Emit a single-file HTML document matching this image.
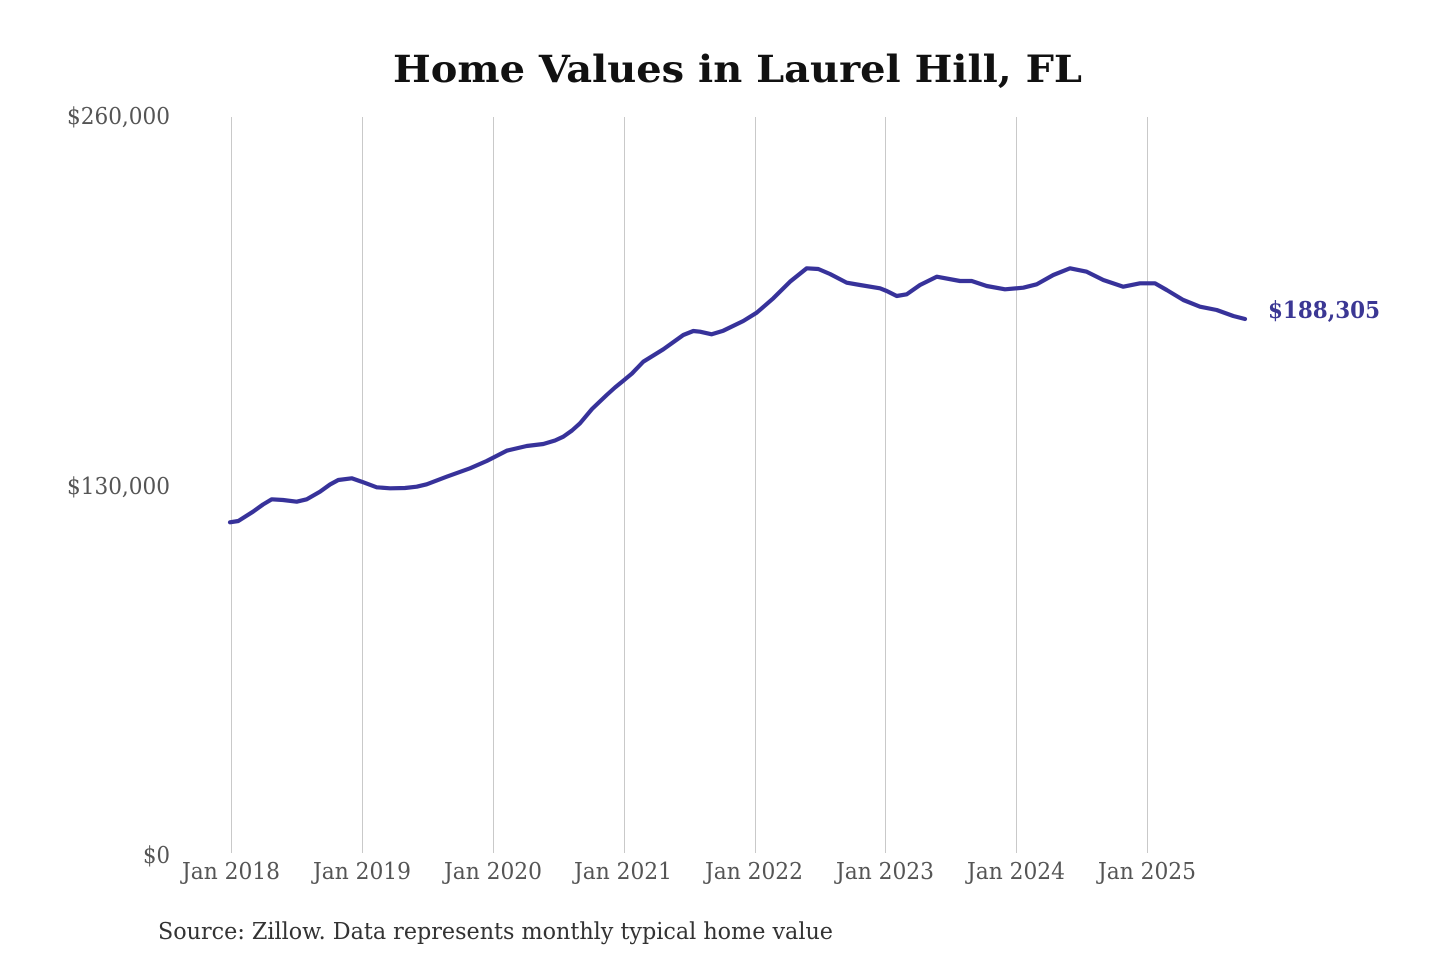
<!DOCTYPE html>
<html>
<head>
<meta charset="utf-8">
<style>
  html, body { margin:0; padding:0; background:#ffffff; }
  svg { display:block; }
  text { font-family: "DejaVu Serif", "Liberation Serif", serif; }
</style>
</head>
<body>
<svg width="1440" height="960" viewBox="0 0 1440 960" xmlns="http://www.w3.org/2000/svg">
  <rect x="0" y="0" width="1440" height="960" fill="#ffffff"/>

  <!-- Title -->
  <text x="393" y="82" font-size="37" font-weight="bold" fill="#111111" textLength="689" lengthAdjust="spacingAndGlyphs">Home Values in Laurel Hill, FL</text>

  <!-- Vertical gridlines -->
  <g stroke="#c9c9c9" stroke-width="1">
    <line x1="231.5" y1="117" x2="231.5" y2="853"/>
    <line x1="362.5" y1="117" x2="362.5" y2="853"/>
    <line x1="493.5" y1="117" x2="493.5" y2="853"/>
    <line x1="624.5" y1="117" x2="624.5" y2="853"/>
    <line x1="755.5" y1="117" x2="755.5" y2="853"/>
    <line x1="885.5" y1="117" x2="885.5" y2="853"/>
    <line x1="1016.5" y1="117" x2="1016.5" y2="853"/>
    <line x1="1147.5" y1="117" x2="1147.5" y2="853"/>
  </g>

  <!-- Y axis labels -->
  <g font-size="23" fill="#555555" text-anchor="end">
    <text x="170" y="124" textLength="103" lengthAdjust="spacingAndGlyphs">$260,000</text>
    <text x="170" y="494" textLength="103" lengthAdjust="spacingAndGlyphs">$130,000</text>
    <text x="170" y="863" textLength="27" lengthAdjust="spacingAndGlyphs">$0</text>
  </g>

  <!-- X axis labels -->
  <g font-size="23" fill="#555555" text-anchor="middle">
    <text x="231" y="879" textLength="98" lengthAdjust="spacingAndGlyphs">Jan 2018</text>
    <text x="362" y="879" textLength="98" lengthAdjust="spacingAndGlyphs">Jan 2019</text>
    <text x="493" y="879" textLength="98" lengthAdjust="spacingAndGlyphs">Jan 2020</text>
    <text x="623" y="879" textLength="98" lengthAdjust="spacingAndGlyphs">Jan 2021</text>
    <text x="754" y="879" textLength="98" lengthAdjust="spacingAndGlyphs">Jan 2022</text>
    <text x="885" y="879" textLength="98" lengthAdjust="spacingAndGlyphs">Jan 2023</text>
    <text x="1016" y="879" textLength="98" lengthAdjust="spacingAndGlyphs">Jan 2024</text>
    <text x="1147" y="879" textLength="98" lengthAdjust="spacingAndGlyphs">Jan 2025</text>
  </g>

  <!-- Data line -->
  <polyline fill="none" stroke="#37329a" stroke-width="4.2" stroke-linejoin="round" stroke-linecap="round"
    points="230,522.3 238.3,521 253,511.7 263,504.5 271.7,499.3 283,500 296.7,501.7 306.7,499.3 320,491.7 330,484.5 338.3,480 351.7,478.3 361.7,481.7 376.7,487.3 390,488.3 405,488 416.7,486.7 426.7,484.3 446.7,476.7 470,468.3 486.7,461 506.7,450.7 526.7,446 543.3,444 555,440.5 563.3,436.7 572,430.5 580,423.3 592,409 606.7,395 615,387.5 623.3,380.7 632,373.5 643.3,361.7 663.3,349.3 683.3,335 693.3,331 700,331.7 711.7,334.3 723.3,330.7 743.3,321 756.7,312.7 773.3,298.3 790,281.7 806.7,268.3 818.3,269 830,274 846.7,282.7 860,285 880,288.3 886.7,291 896.7,296 906.7,294.3 920,285 936.7,276.7 960,281 971.7,281 986.7,286 1005,289.3 1023.3,287.7 1036.7,284.3 1053.3,275 1070,268.3 1086.7,271.7 1103.3,280 1123.3,286.7 1140,283.3 1155,283.3 1166.7,290 1183.3,300 1200,306.7 1216.7,310 1233.3,316 1245,319"/>

  <!-- End label -->
  <text x="1268" y="318" font-size="23" font-weight="bold" fill="#3b3794" textLength="112" lengthAdjust="spacingAndGlyphs">$188,305</text>

  <!-- Source -->
  <text x="158" y="939" font-size="23" fill="#333333" textLength="675" lengthAdjust="spacingAndGlyphs">Source: Zillow. Data represents monthly typical home value</text>
</svg>
</body>
</html>
